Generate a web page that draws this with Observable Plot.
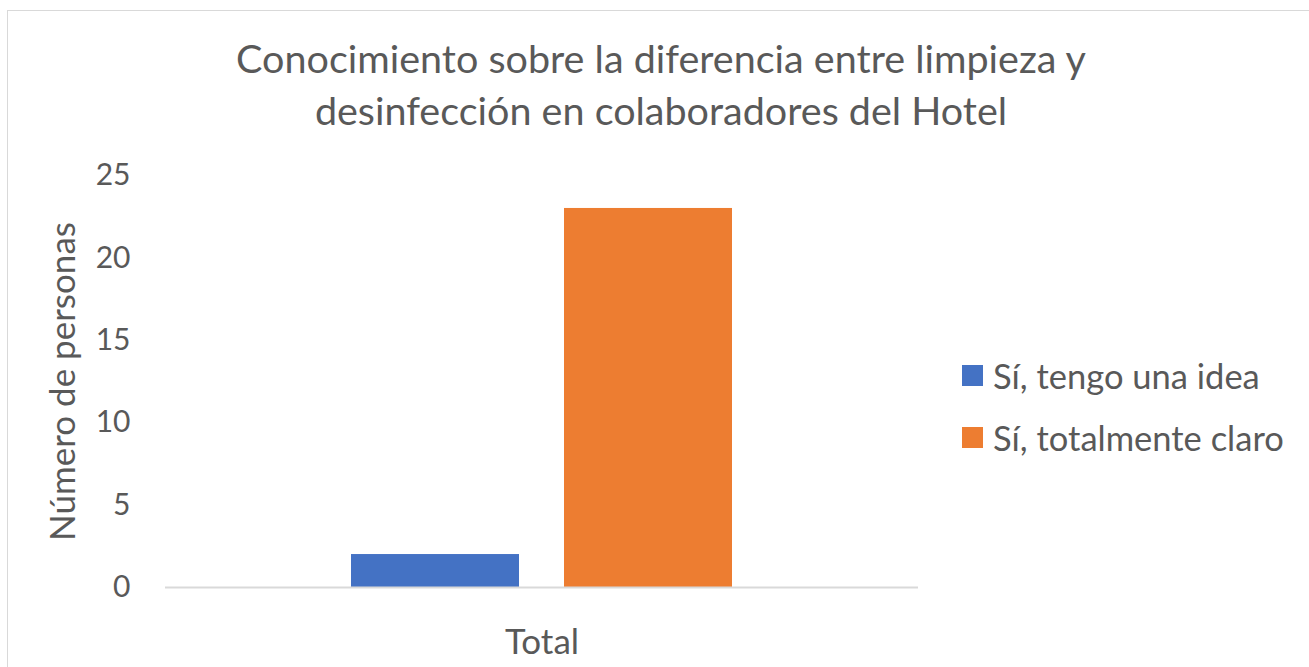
<!DOCTYPE html>
<html>
<head>
<meta charset="utf-8">
<script src="https://cdn.jsdelivr.net/npm/d3@7"></script>
<script src="https://cdn.jsdelivr.net/npm/@observablehq/plot@0.6"></script>
<style>
  html, body { margin: 0; padding: 0; background: #fff; }
  body { width: 1309px; height: 667px; position: relative; overflow: hidden; font-family: Lato, "Open Sans", sans-serif; color: #595959; }
  #frame { position: absolute; left: 7px; top: 10px; width: 1320px; height: 680px; border: 1.5px solid #d9d9d9; box-sizing: border-box; }
  #title { position: absolute; left: 0; width: 1322px; top: 32px; text-align: center; font-size: 39.5px; line-height: 52px; }
  #legend { position: absolute; left: 962px; top: 344px; font-size: 34.5px; }
  .item { display: flex; align-items: center; height: 62px; }
  .sw { width: 21px; height: 21px; margin-right: 10px; flex: none; }
  #chart { position: absolute; left: 0; top: 0; }
</style>
</head>
<body>
<div id="frame"></div>
<div id="chart"></div>
<div id="title">Conocimiento sobre la diferencia entre limpieza y<br>desinfección en colaboradores del Hotel</div>
<div id="legend"></div>
<script>
const categories = ["Total"];
const series = ["Sí, tengo una idea", "Sí, totalmente claro"];
const values = [2, 23];
const colors = ["#4472c4", "#ed7d31"];
const yTicks = [0, 5, 10, 15, 20, 25];
const yLabel = "Número de personas";

const data = series.map((s, i) => ({category: categories[0], series: s, value: values[i]}));

const chart = Plot.plot({
  width: 1309,
  height: 667,
  marginLeft: 165,
  marginRight: 391,
  marginTop: 175,
  marginBottom: 80,
  style: {fontFamily: "Lato, 'Open Sans', sans-serif", color: "#595959", background: "transparent"},
  fx: {domain: categories, padding: 0, label: null},
  x: {domain: series, paddingInner: 0.211, paddingOuter: 0.873, axis: null},
  y: {domain: [0, 25], ticks: yTicks, label: null},
  color: {domain: series, range: colors},
  marks: [
    Plot.barY(data, {fx: "category", x: "series", y: "value", fill: "series"}),
    Plot.ruleY([0], {stroke: "#d9d9d9", strokeWidth: 2}),
    Plot.axisY({ticks: yTicks, tickSize: 0, tickPadding: 35, fontSize: 30, label: null}),
    Plot.axisFx({anchor: "bottom", tickSize: 0, tickPadding: 42, fontSize: 35, label: null}),
    Plot.text([yLabel], {frameAnchor: "left", textAnchor: "middle", dx: -102, dy: 0, rotate: -90, fontSize: 35, fill: "#595959", fx: () => categories[0]})
  ]
});
document.getElementById("chart").appendChild(chart);

const legend = document.getElementById("legend");
series.forEach((s, i) => {
  const it = document.createElement("div");
  it.className = "item";
  const sw = document.createElement("div");
  sw.className = "sw";
  sw.style.background = colors[i];
  const t = document.createElement("span");
  t.textContent = s;
  it.appendChild(sw); it.appendChild(t);
  legend.appendChild(it);
});
</script>
</body>
</html>
